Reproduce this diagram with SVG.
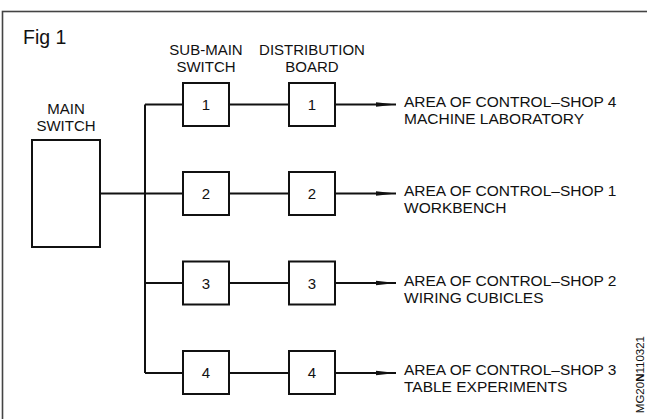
<svg xmlns="http://www.w3.org/2000/svg" width="647" height="419" viewBox="0 0 647 419">
<style>
  text { font-family: "Liberation Sans", Arial, sans-serif; fill: #111; }
  .lbl { font-size: 15px; }
  .area { font-size: 15.5px; }
  .num { font-size: 15px; text-anchor: middle; }
  .box { fill: #fff; stroke: #111; stroke-width: 2; }
  .wire { fill: none; stroke: #111; stroke-width: 2; }
</style>
<defs>
  <marker id="arr" viewBox="0 0 20 6" refX="20" refY="3" markerWidth="20" markerHeight="6" markerUnits="userSpaceOnUse" orient="auto">
    <path d="M0,0.8 L20,3 L0,5.2 Z" fill="#111"/>
  </marker>
</defs>
<rect width="647" height="419" fill="#fff"/>
<rect x="2.5" y="11.5" width="700" height="450" fill="none" stroke="#444" stroke-width="1.6"/>
<text x="23" y="44" style="font-size:19.5px">Fig 1</text>
<text class="lbl" x="206" y="55" text-anchor="middle">SUB-MAIN</text>
<text class="lbl" x="206" y="72" text-anchor="middle">SWITCH</text>
<text class="lbl" x="312" y="55" text-anchor="middle">DISTRIBUTION</text>
<text class="lbl" x="312" y="72" text-anchor="middle">BOARD</text>
<g id="connectors">
  <path class="wire" d="M100,193.5 H145 M145,104.5 V373 M145,104.5 H183 M145,193.5 H183 M145,283 H183 M145,373 H183"/>
  <path class="wire" d="M229,104.5 H289 M229,193.5 H289 M229,283 H289 M229,373 H289"/>
  <path class="wire" d="M335,104.5 H396" marker-end="url(#arr)"/>
  <path class="wire" d="M335,193.5 H396" marker-end="url(#arr)"/>
  <path class="wire" d="M335,283 H396" marker-end="url(#arr)"/>
  <path class="wire" d="M335,373 H396" marker-end="url(#arr)"/>
</g>
<g id="main-switch">
  <rect class="box" x="32" y="140" width="68" height="107"/>
  <text class="lbl" x="66" y="114" text-anchor="middle">MAIN</text>
  <text class="lbl" x="66" y="131" text-anchor="middle">SWITCH</text>
</g>
<g id="sub1"><rect class="box" x="183" y="83" width="46" height="43"/><text class="num" x="206" y="110">1</text></g>
<g id="sub2"><rect class="box" x="183" y="172" width="46" height="43"/><text class="num" x="206" y="199">2</text></g>
<g id="sub3"><rect class="box" x="183" y="261.5" width="46" height="43"/><text class="num" x="206" y="288.5">3</text></g>
<g id="sub4"><rect class="box" x="183" y="351" width="46" height="43"/><text class="num" x="206" y="378">4</text></g>
<g id="db1"><rect class="box" x="289" y="83" width="46" height="43"/><text class="num" x="312" y="110">1</text></g>
<g id="db2"><rect class="box" x="289" y="172" width="46" height="43"/><text class="num" x="312" y="199">2</text></g>
<g id="db3"><rect class="box" x="289" y="261.5" width="46" height="43"/><text class="num" x="312" y="288.5">3</text></g>
<g id="db4"><rect class="box" x="289" y="351" width="46" height="43"/><text class="num" x="312" y="378">4</text></g>
<g id="area1">
  <text class="area" x="404" y="107">AREA OF CONTROL–SHOP 4</text>
  <text class="area" x="404" y="124">MACHINE LABORATORY</text>
</g>
<g id="area2">
  <text class="area" x="404" y="196">AREA OF CONTROL–SHOP 1</text>
  <text class="area" x="404" y="213">WORKBENCH</text>
</g>
<g id="area3">
  <text class="area" x="404" y="285.5">AREA OF CONTROL–SHOP 2</text>
  <text class="area" x="404" y="302.5">WIRING CUBICLES</text>
</g>
<g id="area4">
  <text class="area" x="404" y="375">AREA OF CONTROL–SHOP 3</text>
  <text class="area" x="404" y="392">TABLE EXPERIMENTS</text>
</g>
<text transform="translate(644,336) rotate(-90)" text-anchor="end" style="font-size:11.5px">MG20<tspan font-weight="bold">N</tspan>110321</text>
</svg>
